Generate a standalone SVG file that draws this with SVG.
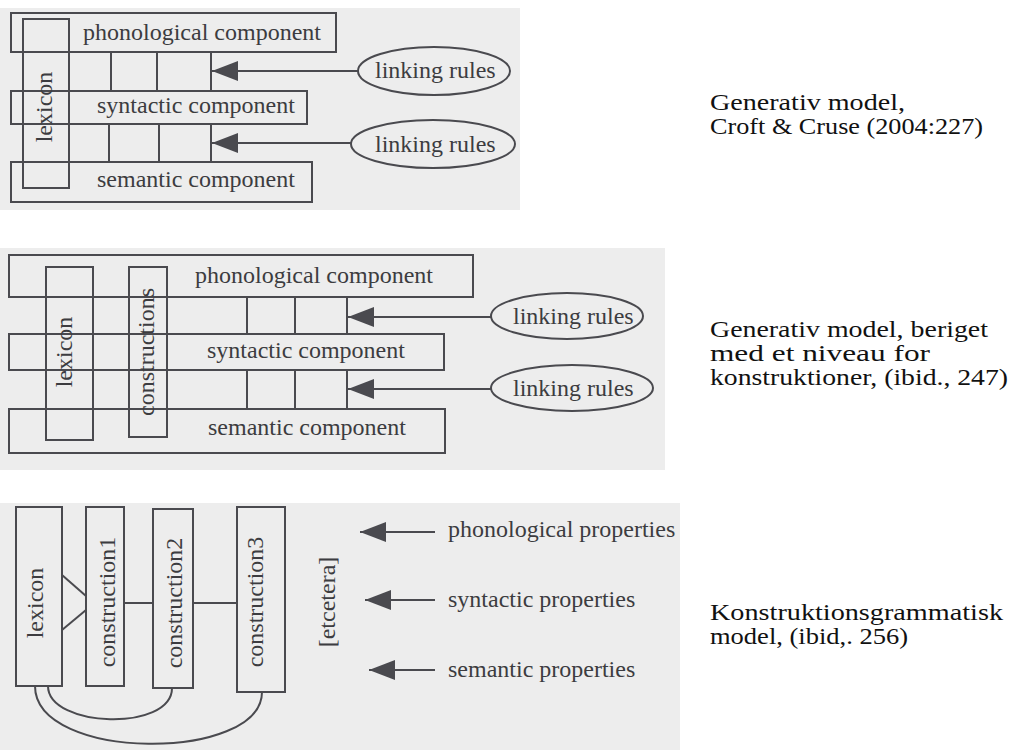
<svg xmlns="http://www.w3.org/2000/svg" width="1012" height="750" viewBox="0 0 1012 750">
<style>
.bg{fill:#ededed;stroke:none}
.box{fill:none;stroke:#4a4a4f;stroke-width:2}
.ln{fill:none;stroke:#4a4a4f;stroke-width:2}
.t{font-family:"Liberation Serif","Times New Roman",serif;font-size:24px;fill:#3c3c40}
.r{font-family:"Liberation Serif","Times New Roman",serif;font-size:23px;fill:#111}
</style>
<defs>
<marker id="ah" markerUnits="userSpaceOnUse" markerWidth="26" markerHeight="20" refX="26" refY="10" orient="auto" viewBox="0 0 26 20">
<path d="M0 0 L26 10 L0 20 Z" fill="#4a4a4f"/>
</marker>
</defs>
<rect width="1012" height="750" fill="#ffffff"/>
<rect class="bg" x="0" y="8" width="520" height="202"/>
<rect class="bg" x="0" y="248" width="665" height="222"/>
<rect class="bg" x="0" y="503" width="680" height="247"/>

<!-- Diagram 1 -->
<g id="d1-phon"><rect class="box" x="11" y="13" width="325" height="39"/><text class="t" x="83" y="40">phonological component</text></g>
<g id="d1-syn"><rect class="box" x="11" y="91" width="296" height="33"/><text class="t" x="97" y="113">syntactic component</text></g>
<g id="d1-sem"><rect class="box" x="11" y="162" width="301" height="40"/><text class="t" x="97" y="187">semantic component</text></g>
<g id="d1-lex"><rect class="box" x="23" y="19" width="46" height="169"/><text class="t" text-anchor="middle" transform="translate(52,107) rotate(-90)">lexicon</text></g>
<g id="d1-link1"><ellipse class="box" cx="434" cy="71" rx="76" ry="24"/><text class="t" x="375" y="78">linking rules</text></g>
<g id="d1-link2"><ellipse class="box" cx="433" cy="144" rx="82" ry="24"/><text class="t" x="375" y="152">linking rules</text></g>

<!-- Diagram 2 -->
<g id="d2-phon"><rect class="box" x="9" y="255" width="464" height="42"/><text class="t" x="195" y="283">phonological component</text></g>
<g id="d2-syn"><rect class="box" x="9" y="334" width="435" height="36"/><text class="t" x="207" y="358">syntactic component</text></g>
<g id="d2-sem"><rect class="box" x="9" y="409" width="436" height="44"/><text class="t" x="208" y="435">semantic component</text></g>
<g id="d2-lex"><rect class="box" x="46" y="267" width="47" height="173"/><text class="t" text-anchor="middle" transform="translate(72,352) rotate(-90)">lexicon</text></g>
<g id="d2-cons"><rect class="box" x="129" y="267" width="38" height="170"/><text class="t" text-anchor="middle" transform="translate(154,352) rotate(-90)">constructions</text></g>
<g id="d2-link1"><ellipse class="box" cx="567" cy="316" rx="76" ry="23"/><text class="t" x="513" y="324">linking rules</text></g>
<g id="d2-link2"><ellipse class="box" cx="572" cy="388" rx="81" ry="23"/><text class="t" x="513" y="396">linking rules</text></g>

<!-- Diagram 3 -->
<g id="d3-lex"><rect class="box" x="16" y="507" width="46" height="179"/><text class="t" text-anchor="middle" transform="translate(43,603) rotate(-90)">lexicon</text></g>
<g id="d3-c1"><rect class="box" x="86" y="507" width="38" height="179"/><text class="t" text-anchor="middle" transform="translate(115,602) rotate(-90)">construction1</text></g>
<g id="d3-c2"><rect class="box" x="153" y="509" width="40" height="179"/><text class="t" text-anchor="middle" transform="translate(182,603) rotate(-90)">construction2</text></g>
<g id="d3-c3"><rect class="box" x="237" y="507" width="48" height="185"/><text class="t" text-anchor="middle" transform="translate(263,602) rotate(-90)">construction3</text></g>
<g id="d3-etc"><text class="t" text-anchor="middle" transform="translate(335,602) rotate(-90)">[etcetera]</text></g>
<g id="d3-phon"><text class="t" x="448" y="537">phonological properties</text></g>
<g id="d3-syn"><text class="t" x="448" y="607">syntactic properties</text></g>
<g id="d3-sem"><text class="t" x="448" y="677">semantic properties</text></g>

<!-- Captions -->
<g id="cap1"><text class="r" x="710" y="110" textLength="195" lengthAdjust="spacingAndGlyphs">Generativ model,</text><text class="r" x="710" y="134" textLength="273" lengthAdjust="spacingAndGlyphs">Croft &amp; Cruse (2004:227)</text></g>
<g id="cap2"><text class="r" x="710" y="337" textLength="278" lengthAdjust="spacingAndGlyphs">Generativ model, beriget</text><text class="r" x="710" y="361" textLength="220" lengthAdjust="spacingAndGlyphs">med et niveau for</text><text class="r" x="710" y="385" textLength="298" lengthAdjust="spacingAndGlyphs">konstruktioner, (ibid., 247)</text></g>
<g id="cap3"><text class="r" x="710" y="620" textLength="293" lengthAdjust="spacingAndGlyphs">Konstruktionsgrammatisk</text><text class="r" x="710" y="644" textLength="198" lengthAdjust="spacingAndGlyphs">model, (ibid,. 256)</text></g>

<g id="connectors">
<!-- d1 -->
<line class="ln" x1="111" y1="52" x2="111" y2="91"/>
<line class="ln" x1="157" y1="52" x2="157" y2="91"/>
<line class="ln" x1="211" y1="52" x2="211" y2="91"/>
<line class="ln" x1="109" y1="124" x2="109" y2="162"/>
<line class="ln" x1="159" y1="124" x2="159" y2="162"/>
<line class="ln" x1="211" y1="124" x2="211" y2="162"/>
<line class="ln" x1="358" y1="71" x2="212" y2="71" marker-end="url(#ah)"/>
<line class="ln" x1="351" y1="143" x2="212" y2="143" marker-end="url(#ah)"/>
<!-- d2 -->
<line class="ln" x1="247" y1="297" x2="247" y2="334"/>
<line class="ln" x1="295" y1="297" x2="295" y2="334"/>
<line class="ln" x1="347" y1="297" x2="347" y2="334"/>
<line class="ln" x1="247" y1="370" x2="247" y2="409"/>
<line class="ln" x1="295" y1="370" x2="295" y2="409"/>
<line class="ln" x1="347" y1="370" x2="347" y2="409"/>
<line class="ln" x1="491" y1="317" x2="348" y2="317" marker-end="url(#ah)"/>
<line class="ln" x1="491" y1="389" x2="348" y2="389" marker-end="url(#ah)"/>
<!-- d3 -->
<line class="ln" x1="62" y1="575" x2="86" y2="596"/>
<line class="ln" x1="62" y1="630" x2="86" y2="610"/>
<line class="ln" x1="124" y1="603" x2="153" y2="603"/>
<line class="ln" x1="193" y1="603" x2="237" y2="603"/>
<path class="ln" d="M48 686 C48 728 172 732 172 688"/>
<path class="ln" d="M35 686 C35 762 262 762 262 692"/>
<line class="ln" x1="435" y1="532" x2="360" y2="532" marker-end="url(#ah)"/>
<line class="ln" x1="435" y1="600" x2="365" y2="600" marker-end="url(#ah)"/>
<line class="ln" x1="435" y1="670" x2="369" y2="670" marker-end="url(#ah)"/>
</g>
</svg>
